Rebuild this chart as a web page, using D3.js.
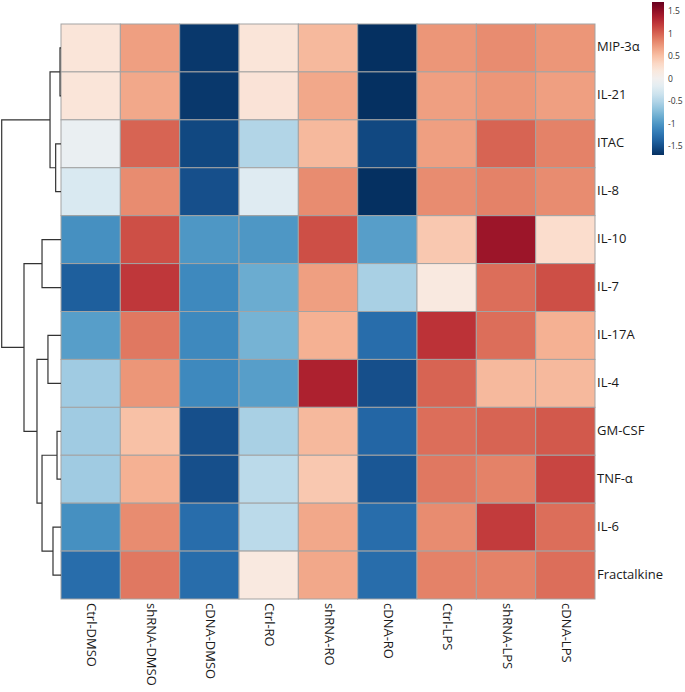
<!DOCTYPE html>
<html>
<head>
<meta charset="utf-8">
<script src="https://cdn.jsdelivr.net/npm/d3@7"></script>
<style>
  body { margin: 0; background: #fff; }
  text { font-family: "Open Sans", "Noto Sans", sans-serif; }
</style>
</head>
<body>
<div id="chart"></div>
<script>
const width = 685;
const height = 692;

// columns (samples) and rows (cytokines), in display order
const samples = ["Ctrl-DMSO", "shRNA-DMSO", "cDNA-DMSO", "Ctrl-RO", "shRNA-RO", "cDNA-RO", "Ctrl-LPS", "shRNA-LPS", "cDNA-LPS"];
const cytokines = ["MIP-3α", "IL-21", "ITAC", "IL-8", "IL-10", "IL-7", "IL-17A", "IL-4", "GM-CSF", "TNF-α", "IL-6", "Fractalkine"];

// scaled expression (z-score), one row per cytokine
const values = [
  [0.20, 0.70, -1.65, 0.20, 0.55, -1.70, 0.75, 0.80, 0.75],
  [0.20, 0.65, -1.65, 0.22, 0.65, -1.70, 0.70, 0.75, 0.70],
  [-0.10, 1.00, -1.55, -0.50, 0.55, -1.55, 0.70, 1.00, 0.85],
  [-0.25, 0.80, -1.50, -0.20, 0.80, -1.70, 0.80, 0.85, 0.80],
  [-1.05, 1.10, -1.00, -1.00, 1.10, -0.95, 0.45, 1.45, 0.28],
  [-1.40, 1.22, -1.10, -0.85, 0.70, -0.55, 0.15, 0.95, 1.10],
  [-0.95, 0.90, -1.10, -0.80, 0.60, -1.30, 1.25, 0.95, 0.60],
  [-0.60, 0.75, -1.10, -0.95, 1.35, -1.50, 1.00, 0.55, 0.55],
  [-0.60, 0.50, -1.50, -0.55, 0.55, -1.35, 0.95, 1.00, 1.05],
  [-0.60, 0.60, -1.50, -0.45, 0.45, -1.45, 0.90, 0.85, 1.15],
  [-1.05, 0.80, -1.30, -0.45, 0.65, -1.30, 0.80, 1.20, 0.95],
  [-1.30, 0.90, -1.30, 0.15, 0.65, -1.30, 0.85, 0.85, 0.95]
];

// row clustering: [node, left, right, merge height]
const rowMerges = [
  ["A", "MIP-3α", "IL-21", 0.17],
  ["B", "ITAC", "IL-8", 0.9],
  ["C", "A", "B", 1.85],
  ["D", "IL-10", "IL-7", 3.2],
  ["E", "IL-17A", "IL-4", 2.2],
  ["F", "GM-CSF", "TNF-α", 0.67],
  ["G", "IL-6", "Fractalkine", 1.35],
  ["H", "F", "G", 3.2],
  ["I", "E", "H", 4.05],
  ["J", "D", "I", 6.24],
  ["root", "C", "J", 10]
];

const legendTicks = [-1.5, -1, -0.5, 0, 0.5, 1, 1.5];

const svg = d3
  .select("#chart")
  .append("svg")
  .attr("width", width)
  .attr("height", height);

const x = d3.scaleBand().domain(samples).range([61, 595]);
const y = d3.scaleBand().domain(cytokines).range([24, 599]);

const color = d3.scaleSequential(t => d3.interpolateRdBu(1 - t)).domain([-1.7, 1.7]);

// Heatmap cells
const cells = [];
values.forEach((row, i) => row.forEach((v, j) => cells.push({ row: cytokines[i], col: samples[j], v })));

svg.append("g")
  .selectAll("rect")
  .data(cells)
  .enter()
  .append("rect")
  .attr("x", d => x(d.col))
  .attr("y", d => y(d.row))
  .attr("width", x.bandwidth())
  .attr("height", y.bandwidth())
  .attr("fill", d => color(d.v))
  .attr("stroke", "#a3a3a3")
  .attr("stroke-width", 1);

// Row labels
svg.append("g")
  .selectAll("text")
  .data(cytokines)
  .enter()
  .append("text")
  .attr("x", 597)
  .attr("y", d => y(d) + y.bandwidth() / 2)
  .attr("dominant-baseline", "middle")
  .attr("font-size", "13px")
  .attr("fill", "#1a1a1a")
  .text(d => d);

// Column labels (rotated)
svg.append("g")
  .selectAll("text")
  .data(samples)
  .enter()
  .append("text")
  .attr("transform", d => `translate(${x(d) + x.bandwidth() / 2},603) rotate(90)`)
  .attr("dominant-baseline", "middle")
  .attr("font-size", "13px")
  .attr("fill", "#1a1a1a")
  .text(d => d);

// Row dendrogram
const h = d3.scaleLinear().domain([0, 10]).range([61, 1.7]);
const pos = {};
cytokines.forEach(c => { pos[c] = { x: h(0), y: y(c) + y.bandwidth() / 2 }; });

const dendro = svg.append("g")
  .attr("fill", "none")
  .attr("stroke", "#333")
  .attr("stroke-width", 1.2);

rowMerges.forEach(([node, a, b, ht]) => {
  const nx = h(ht);
  const pa = pos[a], pb = pos[b];
  dendro.append("path")
    .attr("d", `M${pa.x},${pa.y}H${nx}V${pb.y}H${pb.x}`);
  pos[node] = { x: nx, y: (pa.y + pb.y) / 2 };
});

// Color legend
const ly = d3.scaleLinear().domain([-1.7, 1.7]).range([155, 2]);

const grad = svg.append("defs").append("linearGradient")
  .attr("id", "grad")
  .attr("x1", 0).attr("y1", 1).attr("x2", 0).attr("y2", 0);

d3.range(0, 1.0001, 0.05).forEach(t => {
  grad.append("stop")
    .attr("offset", t)
    .attr("stop-color", color(-1.7 + 3.4 * t));
});

svg.append("rect")
  .attr("x", 652)
  .attr("y", ly(1.7))
  .attr("width", 12)
  .attr("height", ly(-1.7) - ly(1.7))
  .attr("fill", "url(#grad)");

const legendAxis = svg.append("g")
  .attr("transform", "translate(664,0)")
  .call(d3.axisRight(ly).tickValues(legendTicks).tickSize(0).tickPadding(4).tickFormat(d => String(d)));

legendAxis.select(".domain").remove();
legendAxis.selectAll("text")
  .attr("font-size", "8.5px")
  .attr("font-family", "'Open Sans', sans-serif")
  .attr("fill", "#333");
</script>
</body>
</html>
